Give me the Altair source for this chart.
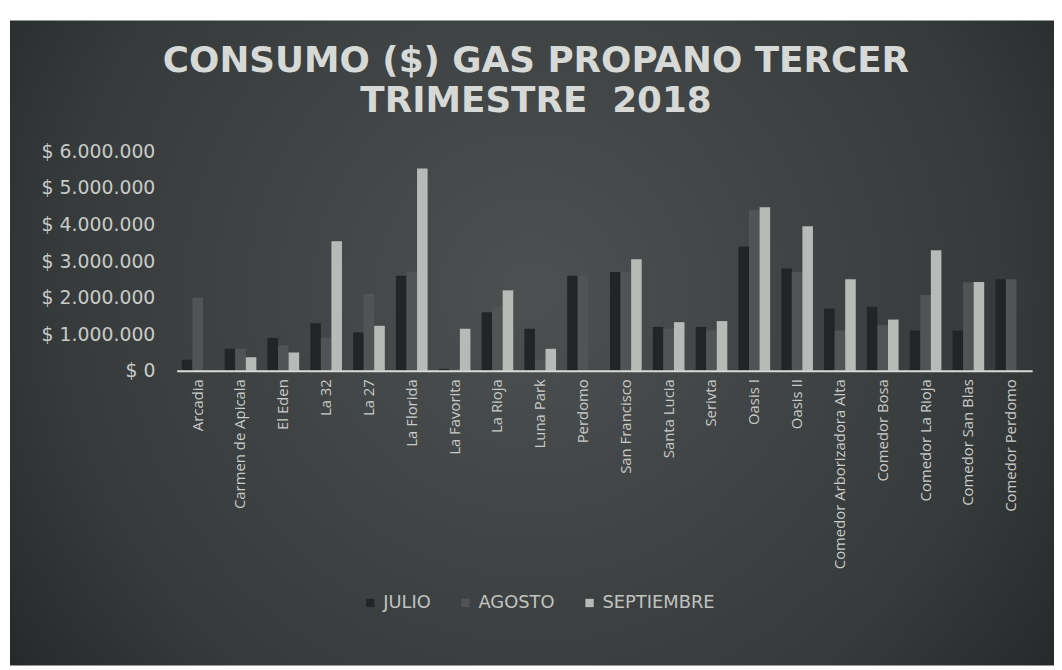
import altair as alt
import pandas as pd

sedes = ["Arcadia", "Carmen de Apicala", "El Eden", "La 32", "La 27", "La Florida",
         "La Favorita", "La Rioja", "Luna Park", "Perdomo", "San Francisco",
         "Santa Lucia", "Serivta", "Oasis I", "Oasis II", "Comedor Arborizadora Alta",
         "Comedor Bosa", "Comedor La Rioja", "Comedor San Blas", "Comedor Perdomo"]
meses = ["JULIO", "AGOSTO", "SEPTIEMBRE"]

julio = [300000, 600000, 900000, 1300000, 1050000, 2600000,
         50000, 1600000, 1150000, 2600000, 2700000,
         1200000, 1200000, 3400000, 2800000, 1700000,
         1750000, 1100000, 1100000, 2500000]
agosto = [2000000, 600000, 700000, 900000, 2100000, 2700000,
          50000, 1750000, 300000, 2600000, 2700000,
          1150000, 1100000, 4400000, 2700000, 1100000,
          1250000, 2070000, 2420000, 2500000]
septiembre = [0, 370000, 500000, 3540000, 1230000, 5530000,
              1150000, 2200000, 600000, 0, 3050000,
              1330000, 1360000, 4470000, 3950000, 2500000,
              1400000, 3300000, 2430000, 0]

titulo = ["CONSUMO ($) GAS PROPANO TERCER", "TRIMESTRE\u00a0\u00a02018"]

rows = []
for i, s in enumerate(sedes):
    for m, vals in zip(meses, [julio, agosto, septiembre]):
        rows.append({"Sede": s, "Mes": m, "Valor": vals[i]})
df = pd.DataFrame(rows)

W, H = 862, 221
PL, PT = 170, 142

bg = alt.Chart(pd.DataFrame({"k": [0]})).mark_rect(
    clip=False,
    color=alt.RadialGradient(
        gradient="radial", x1=0.5, y1=0.45, r1=0.0, x2=0.5, y2=0.45, r2=0.75,
        stops=[alt.GradientStop(offset=0, color="#4c5050"),
               alt.GradientStop(offset=0.6, color="#363a3a"),
               alt.GradientStop(offset=1, color="#1a1c1d")])
).encode(x=alt.value(-PL + 2), x2=alt.value(W + 22), y=alt.value(-PT + 10), y2=alt.value(H + 297))

title_df = pd.DataFrame({"t": titulo, "line": [0, 1]})
title = alt.Chart(title_df).mark_text(
    font="DejaVu Sans", fontSize=36, fontWeight="bold", color="#d6d9d6",
    align="center", baseline="alphabetic", clip=False
).encode(
    text="t:N",
    x=alt.value(362),
    y=alt.Y("line:Q", scale=alt.Scale(domain=[0, 1], range=[-80, -40]), axis=None)
)

bars = alt.Chart(df).mark_bar().encode(
    x=alt.X("Sede:N", sort=sedes, title=None,
            scale=alt.Scale(paddingInner=0.26, paddingOuter=0.12),
            axis=alt.Axis(labelAngle=-90, labelColor="#c8cbc8", labelFontSize=15,
                          labelFont="Open Sans", labelPadding=8, ticks=False,
                          domainColor="#d8dbd8", domainWidth=2, labelLimit=300,
                          zindex=2)),
    xOffset=alt.XOffset("Mes:N", sort=meses, scale=alt.Scale(paddingInner=0, paddingOuter=0)),
    y=alt.Y("Valor:Q", title=None,
            scale=alt.Scale(domain=[0, 6000000], nice=False),
            axis=alt.Axis(values=[0, 1000000, 2000000, 3000000, 4000000, 5000000, 6000000],
                          labelExpr='"$ " + replace(format(datum.value, ",.0f"), /,/g, ".")',
                          labelColor="#c8cbc8", labelFontSize=19, labelFont="DejaVu Sans",
                          labelPadding=22, ticks=False, domain=False, grid=False,
                          zindex=2)),
    color=alt.Color("Mes:N", sort=meses,
                    scale=alt.Scale(domain=meses, range=["#222526", "#505455", "#b7bbb8"]),
                    legend=alt.Legend(title=None, orient="none", direction="horizontal",
                                      legendX=186, legendY=446, symbolType="square",
                                      symbolSize=70, labelColor="#c0c3c0", labelFontSize=18,
                                      labelFont="DejaVu Sans", columnPadding=26,
                                      symbolStrokeWidth=0, zindex=2))
)

chart = alt.layer(bg, bars, title).resolve_scale(y="independent").properties(
    width=W, height=H,
    autosize=alt.AutoSizeParams(type="none"),
    padding={"left": PL, "top": PT, "right": 22, "bottom": 299},
    background="#ffffff",
).configure_view(stroke=None)

chart.save("out.html", embed_options={"renderer": "svg", "actions": False})
